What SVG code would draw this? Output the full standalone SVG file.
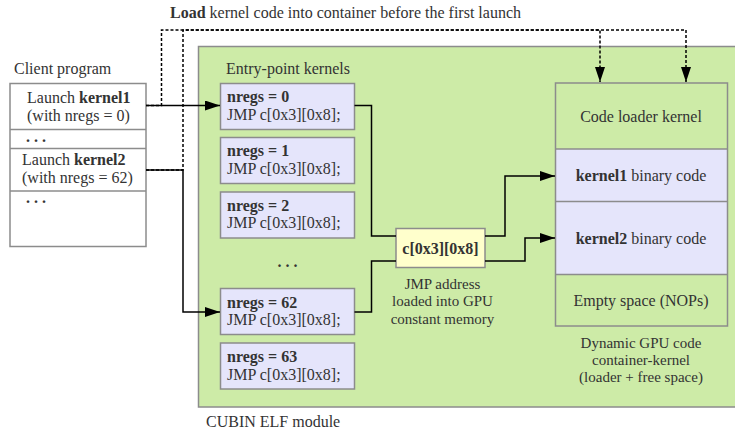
<svg xmlns="http://www.w3.org/2000/svg" width="735" height="434" viewBox="0 0 735 434">
<style>
text{font-family:"Liberation Serif","Times New Roman",serif;font-size:16px;fill:#333}
.b{font-weight:bold}
.c{text-anchor:middle}
.cap{font-size:15px}
.kbox{fill:#e5e5fb;stroke:#8c8c8c;stroke-width:1.5}
.ln{fill:none;stroke:#000;stroke-width:1.5}
.ds{fill:none;stroke:#000;stroke-width:1.5;stroke-dasharray:3 2}
</style>
<defs>
<marker id="ah" markerUnits="userSpaceOnUse" markerWidth="15" markerHeight="10" refX="15" refY="5" orient="auto">
<path d="M0,0 L15,5 L0,10 z" fill="#000"/>
</marker>
</defs>
<rect width="735" height="434" fill="#fff"/>

<g id="title"><text x="170" y="18"><tspan class="b">Load</tspan> kernel code into container before the first launch</text></g>

<g id="cubin">
<rect x="198.5" y="46.5" width="545" height="360.5" fill="#cdeba7" stroke="#8c8c8c" stroke-width="1.5"/>
<text x="206" y="426.5">CUBIN ELF module</text>
<text x="226" y="74">Entry-point kernels</text>
</g>

<g id="client">
<text x="14" y="74">Client program</text>
<rect x="10" y="83.5" width="136" height="163" fill="#fff" stroke="#8c8c8c" stroke-width="1.5"/>
<line x1="10" y1="129.5" x2="146" y2="129.5" stroke="#8c8c8c" stroke-width="1.5"/>
<line x1="10" y1="148.5" x2="146" y2="148.5" stroke="#8c8c8c" stroke-width="1.5"/>
<line x1="10" y1="191" x2="146" y2="191" stroke="#8c8c8c" stroke-width="1.5"/>
<text x="27" y="103">Launch <tspan class="b">kernel1</tspan></text>
<text x="27" y="120.5">(with nregs = 0)</text>
<text x="26" y="141.5" class="b">. . .</text>
<text x="22" y="165">Launch <tspan class="b">kernel2</tspan></text>
<text x="22" y="183">(with nregs = 62)</text>
<text x="26" y="203" class="b">. . .</text>
</g>

<g id="k0"><rect class="kbox" x="220.5" y="83.5" width="134" height="46"/><text x="227" y="102" class="b">nregs = 0</text><text x="227" y="119.5">JMP c[0x3][0x8];</text></g>
<g id="k1"><rect class="kbox" x="220.5" y="137.5" width="134" height="46"/><text x="227" y="156" class="b">nregs = 1</text><text x="227" y="173.5">JMP c[0x3][0x8];</text></g>
<g id="k2"><rect class="kbox" x="220.5" y="192" width="134" height="46"/><text x="227" y="210.5" class="b">nregs = 2</text><text x="227" y="228">JMP c[0x3][0x8];</text></g>
<g id="kdots"><text x="287.5" y="267" class="b c">. . .</text></g>
<g id="k62"><rect class="kbox" x="220.5" y="288.5" width="134" height="46"/><text x="227" y="307.5" class="b">nregs = 62</text><text x="227" y="325">JMP c[0x3][0x8];</text></g>
<g id="k63"><rect class="kbox" x="220.5" y="343" width="134" height="46"/><text x="227" y="362" class="b">nregs = 63</text><text x="227" y="379.5">JMP c[0x3][0x8];</text></g>

<g id="jmp">
<rect x="396" y="228.5" width="89" height="39" fill="#ffffcc" stroke="#8c8c8c" stroke-width="1.5"/>
<text x="440.5" y="254" class="b c">c[0x3][0x8]</text>
<text x="442.5" y="288.5" class="c cap">JMP address</text>
<text x="442.5" y="306" class="c cap">loaded into GPU</text>
<text x="442.5" y="323.5" class="c cap">constant memory</text>
</g>

<g id="container">
<rect x="555.5" y="149" width="172" height="125.5" fill="#e5e5fb"/>
<rect x="555.5" y="83" width="172" height="243" fill="none" stroke="#8c8c8c" stroke-width="1.5"/>
<line x1="555.5" y1="149" x2="727.5" y2="149" stroke="#8c8c8c" stroke-width="1.5"/>
<line x1="555.5" y1="201.5" x2="727.5" y2="201.5" stroke="#8c8c8c" stroke-width="1.5"/>
<line x1="555.5" y1="274.5" x2="727.5" y2="274.5" stroke="#8c8c8c" stroke-width="1.5"/>
<text x="641" y="121.5" class="c">Code loader kernel</text>
<text x="641" y="180.5" class="c"><tspan class="b">kernel1</tspan> binary code</text>
<text x="641" y="243.5" class="c"><tspan class="b">kernel2</tspan> binary code</text>
<text x="641" y="306" class="c">Empty space (NOPs)</text>
<text x="641" y="347.5" class="c cap">Dynamic GPU code</text>
<text x="641" y="364.5" class="c cap">container-kernel</text>
<text x="641" y="382" class="c cap">(loader + free space)</text>
</g>

<g id="connectors">
<path class="ds" d="M146,105.5 H161.5 V30 H600 V82" marker-end="url(#ah)"/>
<path class="ds" d="M146,170 H183 V30 H686 V82" marker-end="url(#ah)"/>
<path class="ln" d="M146,105.5 H220" marker-end="url(#ah)"/>
<path class="ln" d="M146,170 H183 V312 H220" marker-end="url(#ah)"/>
<path class="ln" d="M354.5,105.5 H371.5 V236 H396"/>
<path class="ln" d="M396,261 H371.5 V312 H354.5"/>
<path class="ln" d="M485,236 H505 V176 H555" marker-end="url(#ah)"/>
<path class="ln" d="M485,261 H525 V238 H555" marker-end="url(#ah)"/>
</g>
</svg>
